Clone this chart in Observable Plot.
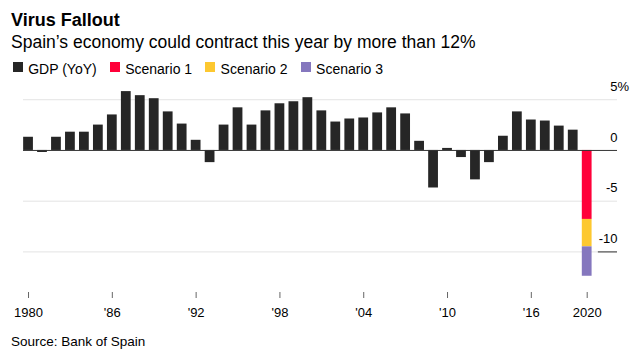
<!DOCTYPE html>
<html><head><meta charset="utf-8">
<script src="https://cdn.jsdelivr.net/npm/d3@7"></script>
<script src="https://cdn.jsdelivr.net/npm/@observablehq/plot@0.6"></script>
<style>
body{margin:0;background:#fff;font-family:"Liberation Sans",Arial,sans-serif;color:#000;width:638px;overflow:hidden}
.title{font-weight:bold;font-size:18px;line-height:20px;height:20px;padding:10px 0 0 11px}
.sub{font-size:17.5px;line-height:24.5px;height:24.5px;padding-left:11px;white-space:nowrap}
.legend{font-size:14px;line-height:28px;height:20px;overflow:visible;padding-left:12.7px;white-space:nowrap}
.legend .sw{display:inline-block;width:10px;height:10px;vertical-align:2px;margin-right:5.5px}
.legend .it{margin-right:13px}
#chart svg{display:block}
#chart [aria-label^="x-axis"] path, #chart [aria-label^="x-axis"] line{stroke:#666}
.src{font-size:13.5px;line-height:16px;padding:12.5px 0 0 11px;white-space:nowrap}
</style>
</head><body>
<div class="title">Virus Fallout</div>
<div class="sub">Spain’s economy could contract this year by more than 12%</div>
<div class="legend" id="legend"></div>
<div id="chart"></div>
<div class="src">Source: Bank of Spain</div>
<script>
const years = [1980,1981,1982,1983,1984,1985,1986,1987,1988,1989,
               1990,1991,1992,1993,1994,1995,1996,1997,1998,1999,
               2000,2001,2002,2003,2004,2005,2006,2007,2008,2009,
               2010,2011,2012,2013,2014,2015,2016,2017,2018,2019];
const gdp = [1.3,-0.2,1.3,1.8,1.8,2.5,3.5,5.8,5.4,5.1,
             3.8,2.6,1.0,-1.2,2.5,4.2,2.5,3.9,4.6,4.8,
             5.2,3.9,2.8,3.1,3.2,3.7,4.2,3.6,0.9,-3.7,
             0.2,-0.7,-2.9,-1.2,1.4,3.8,3.0,2.9,2.4,2.0];
const scenarioYear = 2020;
const scenarioNames = ["Scenario 1","Scenario 2","Scenario 3"];
const scenarioLevels = [-6.8,-9.5,-12.4];
const scenarioColors = ["#ff0039","#fdc830","#8577be"];
const gdpName = "GDP (YoY)";
const gdpColor = "#262626";
const xTicks = [1980,1986,1992,1998,2004,2010,2016,2020];
const xTickLabels = ["1980","'86","'92","'98","'04","'10","'16","2020"];
const yTicks = [5,0,-5,-10];
const yTickLabels = ["5","0","-5","-10"];

// legend
const legend = document.getElementById("legend");
[[gdpName,gdpColor],...scenarioNames.map((n,i)=>[n,scenarioColors[i]])].forEach(([n,c])=>{
  const s = document.createElement("span"); s.className="it";
  s.innerHTML = `<span class="sw" style="background:${c}"></span>${n}`;
  legend.appendChild(s);
});

const gdpData = years.map((y,i)=>({year:y, value:gdp[i]}));
const scenData = scenarioNames.map((n,i)=>({name:n, year:scenarioYear, y1: i===0?0:scenarioLevels[i-1], y2: scenarioLevels[i]}));
const xMin = 1979.64, xMax = 2022.17, hw = 0.35;

const chart = Plot.plot({
  width:638, height:247, marginTop:9, marginBottom:30, marginLeft:23, marginRight:21,
  style:{fontFamily:'"Liberation Sans",Arial,sans-serif', fontSize:"13px", color:"#000", background:"#fff", overflow:"visible"},
  x:{domain:[xMin,xMax], ticks:xTicks, tickFormat:d=>xTickLabels[xTicks.indexOf(d)], tickSize:6, tickPadding:9, label:null},
  y:{domain:[-14,6.5], axis:null},
  color:{domain:scenarioNames, range:scenarioColors},
  marks:[
    Plot.ruleY(yTicks.filter(d=>d!==0), {stroke:"#e3e3e3"}),
    Plot.rectY(gdpData, {x1:d=>d.year-hw, x2:d=>d.year+hw, y1:0, y2:"value", fill:gdpColor}),
    Plot.rectY(scenData, {x1:d=>d.year-hw, x2:d=>d.year+hw, y1:"y1", y2:"y2", fill:"name"}),
    Plot.ruleY([0], {stroke:"#333"}),
    Plot.ruleY([-10], {x1:scenarioYear+0.8, x2:xMax, stroke:"#333"}),
    Plot.text(yTicks, {x:xMax, y:d=>d, text:(d,i)=>yTickLabels[i], textAnchor:"end", dy:-13}),
    Plot.text([yTicks[0]], {x:xMax, y:d=>d, text:["%"], textAnchor:"start", dy:-13})
  ]
});
document.getElementById("chart").appendChild(chart);
</script>
</body></html>
